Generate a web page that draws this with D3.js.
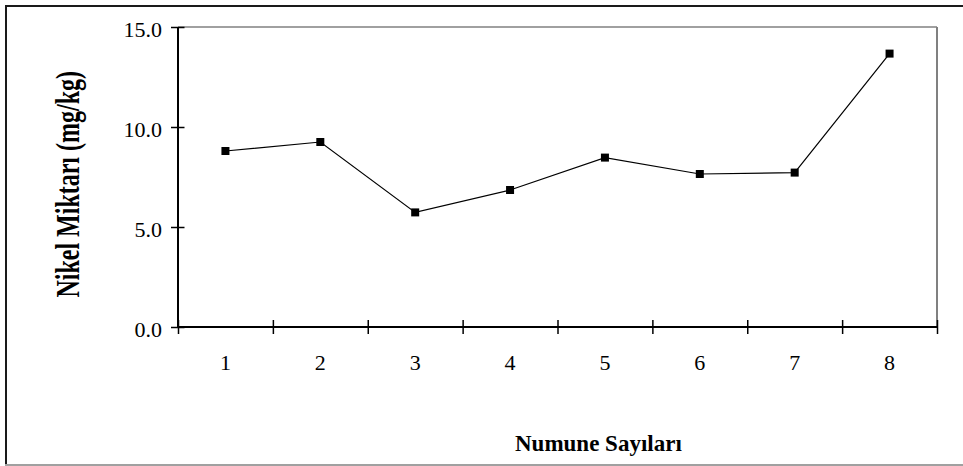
<!DOCTYPE html>
<html>
<head>
<meta charset="utf-8">
<script src="https://cdn.jsdelivr.net/npm/d3@7"></script>
<style>
  html, body { margin: 0; padding: 0; background: #fff; }
  svg { display: block; }
  text { font-family: "Liberation Serif", "Times New Roman", serif; fill: #000; }
</style>
</head>
<body>
<svg id="chart" width="963" height="466"></svg>
<script>
const categories = ["1", "2", "3", "4", "5", "6", "7", "8"];
const values = [8.8, 9.25, 5.73, 6.85, 8.47, 7.65, 7.72, 13.67];
const yTicks = [0, 5, 10, 15];
const yTitle = "Nikel Miktarı (mg/kg)";
const xTitle = "Numune Sayıları";

const svg = d3.select("#chart");
const W = 963, H = 466;
const plot = { left: 178, right: 937, top: 27, bottom: 327 };

// outer frame
svg.append("line").attr("x1", 6).attr("x2", W).attr("y1", 6).attr("y2", 6)
  .attr("stroke", "#1a1a1a").attr("stroke-width", 2);
svg.append("line").attr("x1", 6).attr("x2", 6).attr("y1", 5).attr("y2", 465)
  .attr("stroke", "#1a1a1a").attr("stroke-width", 2);
svg.append("line").attr("x1", 5).attr("x2", W).attr("y1", 465).attr("y2", 465)
  .attr("stroke", "#a0a0a0").attr("stroke-width", 2);

const x = d3.scaleBand().domain(categories).range([plot.left, plot.right]).padding(0);
const xEdge = d3.scaleLinear().domain([0, categories.length]).range([plot.left, plot.right]);
const y = d3.scaleLinear().domain([0, 15]).range([plot.bottom, plot.top]);

// plot frame (top & right, gray)
svg.append("line").attr("x1", plot.left).attr("x2", plot.right).attr("y1", plot.top).attr("y2", plot.top)
  .attr("stroke", "#808080").attr("stroke-width", 1.5);
svg.append("line").attr("x1", plot.right).attr("x2", plot.right).attr("y1", plot.top).attr("y2", plot.bottom)
  .attr("stroke", "#808080").attr("stroke-width", 2);

// y axis
const yAxis = svg.append("g").attr("transform", `translate(${plot.left},0)`)
  .call(d3.axisLeft(y).tickValues(yTicks).tickFormat(d3.format(".1f")).tickSize(7).tickPadding(9));
yAxis.select(".domain").remove();
yAxis.selectAll(".tick line").attr("x2", -7).attr("x1", 6.5).attr("stroke", "#000").attr("stroke-width", 1.5);
yAxis.selectAll(".tick text").attr("font-size", 22).attr("dy", "9.5px")
  .attr("font-family", "Liberation Serif, serif").attr("fill", "#000");

// x axis ticks at band edges
const xAxis = svg.append("g").attr("transform", `translate(0,${plot.bottom})`)
  .call(d3.axisBottom(xEdge).tickValues(d3.range(0, categories.length + 1)).tickSize(7).tickFormat(""));
xAxis.select(".domain").remove();
xAxis.selectAll(".tick line").attr("y1", -7).attr("stroke", "#000").attr("stroke-width", 1.5);

// x labels
const xLab = svg.append("g").attr("transform", `translate(0,${plot.bottom})`)
  .call(d3.axisBottom(x).tickSize(0).tickPadding(43));
xLab.select(".domain").remove();
xLab.selectAll(".tick text").attr("font-size", 22).attr("dy", 0)
  .attr("font-family", "Liberation Serif, serif").attr("fill", "#000");

// axis lines
svg.append("line").attr("x1", plot.left).attr("x2", plot.left).attr("y1", plot.top).attr("y2", plot.bottom + 1)
  .attr("stroke", "#000").attr("stroke-width", 2);
svg.append("line").attr("x1", plot.left - 1).attr("x2", plot.right).attr("y1", plot.bottom).attr("y2", plot.bottom)
  .attr("stroke", "#000").attr("stroke-width", 2);

// series
const line = d3.line().x((d, i) => x(categories[i]) + x.bandwidth() / 2).y(d => y(d));
svg.append("path").datum(values).attr("d", line).attr("fill", "none")
  .attr("stroke", "#000").attr("stroke-width", 1.2);
const ms = 8;
svg.append("g").selectAll("rect").data(values).join("rect")
  .attr("x", (d, i) => x(categories[i]) + x.bandwidth() / 2 - ms / 2)
  .attr("y", d => y(d) - ms / 2)
  .attr("width", ms).attr("height", ms).attr("fill", "#000");

// titles
svg.append("text").attr("x", 515).attr("y", 451).attr("font-size", 23).attr("font-weight", "bold")
  .text(xTitle);
svg.append("text").attr("transform", "translate(79,71) rotate(-90) scale(1,1.4)")
  .attr("text-anchor", "end").attr("font-size", 24).attr("font-weight", "bold")
  .text(yTitle);
</script>
</body>
</html>
